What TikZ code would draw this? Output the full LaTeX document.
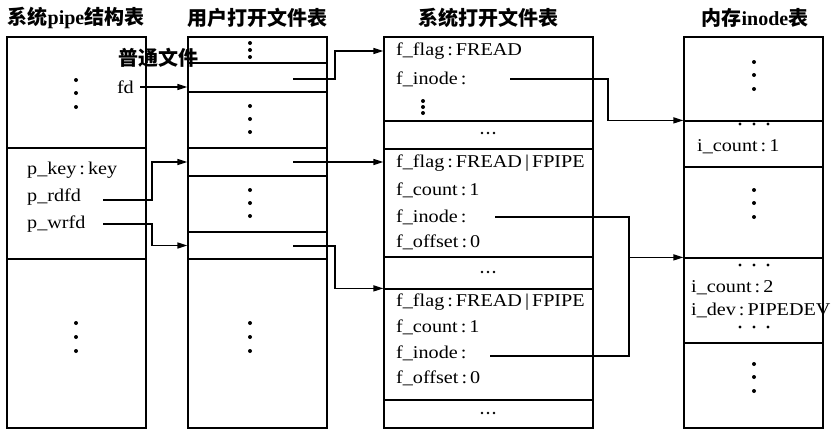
\documentclass[tikz,border=0pt]{standalone}
\usepackage{fontspec}
\setmainfont{Liberation Serif}[FakeStretch=1.12]
\newfontfamily\cjk{Noto Sans CJK SC}
\usetikzlibrary{arrows.meta}
\begin{document}
\begin{tikzpicture}[x=1pt,y=-1pt,
  cell/.style={draw,line width=1.2pt,inner sep=0pt,minimum width=139pt},
  wcell/.style={cell,minimum width=209pt},
  lbl/.style={inner sep=0pt,anchor=west,font=\fontsize{18}{20}\selectfont},
  ttl/.style={inner sep=0pt,font=\fontsize{20}{22}\selectfont\cjk\bfseries},
  conn/.style={line width=1.3pt,-{Triangle[length=10pt,width=6pt]}},
  wire/.style={line width=1.3pt},
  dot/.style={fill=black}]
\useasboundingbox (0,0) rectangle (839,431);
% titles
\node[ttl] (t1) at (76,18) {系统\fontspec{Liberation Serif}pipe\cjk 结构表};
\node[ttl] (t2) at (257,18) {用户打开文件表};
\node[ttl] (t3) at (488,18) {系统打开文件表};
\node[ttl] (t4) at (755,18) {内存\fontspec{Liberation Serif}inode\cjk 表};
% box 1
\node[cell,minimum height=111pt] (b1a) at (76.5,92.5) {};
\node[cell,minimum height=111pt] (b1b) at (76.5,203.5) {};
\node[cell,minimum height=169pt] (b1c) at (76.5,343.5) {};
% box 2
\node[cell,minimum height=26pt] (b2a) at (257.5,50) {};
\node[cell,minimum height=29pt] (b2b) at (257.5,77.5) {};
\node[cell,minimum height=56pt] (b2c) at (257.5,120) {};
\node[cell,minimum height=28pt] (b2d) at (257.5,162) {};
\node[cell,minimum height=56pt] (b2e) at (257.5,204) {};
\node[cell,minimum height=27pt] (b2f) at (257.5,245.5) {};
\node[cell,minimum height=169pt] (b2g) at (257.5,343.5) {};
% box 3
\node[wcell,minimum height=84pt] (b3a) at (488.5,79) {};
\node[wcell,minimum height=28pt] (b3b) at (488.5,135) {};
\node[wcell,minimum height=108pt] (b3c) at (488.5,203) {};
\node[wcell,minimum height=32pt] (b3d) at (488.5,273) {};
\node[wcell,minimum height=111pt] (b3e) at (488.5,344.5) {};
\node[wcell,minimum height=28pt] (b3f) at (488.5,414) {};
% box 4
\node[cell,minimum height=84pt] (b4a) at (753.5,79) {};
\node[cell,minimum height=46pt] (b4b) at (753.5,144) {};
\node[cell,minimum height=91pt] (b4c) at (753.5,212.5) {};
\node[cell,minimum height=85pt] (b4d) at (753.5,300.5) {};
\node[cell,minimum height=85pt] (b4e) at (753.5,385.5) {};
% vertical dots
\foreach \x/\ys in {76/{80,93,107}, 76/{323,337,351}, 250/{43,50,57}, 250/{106,119,132},
   250/{190,203,216}, 250/{323,337,351}, 423/{101,107,113}, 754/{62,75,89},
   754/{190,203,217}, 754/{364,377,391}}
  \foreach \y in \ys \fill[dot] (\x,\y) circle (2pt);
% horizontal dots
\foreach \y in {124,265,327} \foreach \x in {740,754,768} \fill[dot] (\x,\y) circle (1.6pt);
\foreach \y in {133,272,413} \foreach \x in {482,488,494} \fill[dot] (\x,\y) circle (1.3pt);
% labels box 1 / 2
\node[ttl] (pt) at (158,58) {普通文件};
\node[lbl,anchor=east] (fd) at (134,87) {fd};
\node[lbl] (pk) at (27,170) {p\_key\,:\,key};
\node[lbl] (prd) at (27,197) {p\_rdfd};
\node[lbl] (pwr) at (27,224) {p\_wrfd};
% labels box 3
\node[lbl] (ff1) at (396,51) {f\_flag\,:\,FREAD};
\node[lbl] (fi1) at (396,79) {f\_inode\,:};
\node[lbl] (ff2) at (396,163) {f\_flag\,:\,FREAD\,|\,FPIPE};
\node[lbl] (fc2) at (396,190) {f\_count\,:\,1};
\node[lbl] (fi2) at (396,217) {f\_inode\,:};
\node[lbl] (fo2) at (396,242) {f\_offset\,:\,0};
\node[lbl] (ff3) at (396,302) {f\_flag\,:\,FREAD\,|\,FPIPE};
\node[lbl] (fc3) at (396,327) {f\_count\,:\,1};
\node[lbl] (fi3) at (396,353) {f\_inode\,:};
\node[lbl] (fo3) at (396,378) {f\_offset\,:\,0};
% labels box 4
\node[lbl] (ic1) at (697,147) {i\_count\,:\,1};
\node[lbl] (ic2) at (691,288) {i\_count\,:\,2};
\node[lbl] (idv) at (691,310) {i\_dev\,:\,PIPEDEV};
% connector coordinates
\coordinate (sfd) at (140,87);
\coordinate (srd) at (103,200);
\coordinate (swr) at (103,224);
\coordinate (jx) at (152,0);
\coordinate (s2b) at (293,79);
\coordinate (s2d) at (293,162);
\coordinate (s2f) at (293,246);
\coordinate (mx) at (335,0);
\coordinate (s3a) at (510,79);
\coordinate (ax) at (608,0);
\coordinate (s3c) at (495,217);
\coordinate (s3e) at (490,356);
\coordinate (cx) at (629,0);
% connectors
\draw[conn] (sfd) -- (b2b.west |- sfd);
\draw[conn] (srd) -| (jx |- b2d.center) -- (b2d.west);
\draw[conn] (swr) -| (jx |- b2f.center) -- (b2f.west);
\draw[conn] (s2b) -| (mx |- ff1) -- (b3a.west |- ff1);
\draw[conn] (s2d) -- (b3c.west |- s2d);
\draw[conn] (s2f) -| (mx |- b3e.north) -- (b3e.north west);
\draw[conn] (s3a) -| (ax |- b4b.north) -- (b4b.north west);
\draw[wire] (s3c) -| (cx |- s3e) -- (s3e);
\draw[conn] (cx |- b4d.north) -- (b4d.north west);
\end{tikzpicture}
\end{document}
